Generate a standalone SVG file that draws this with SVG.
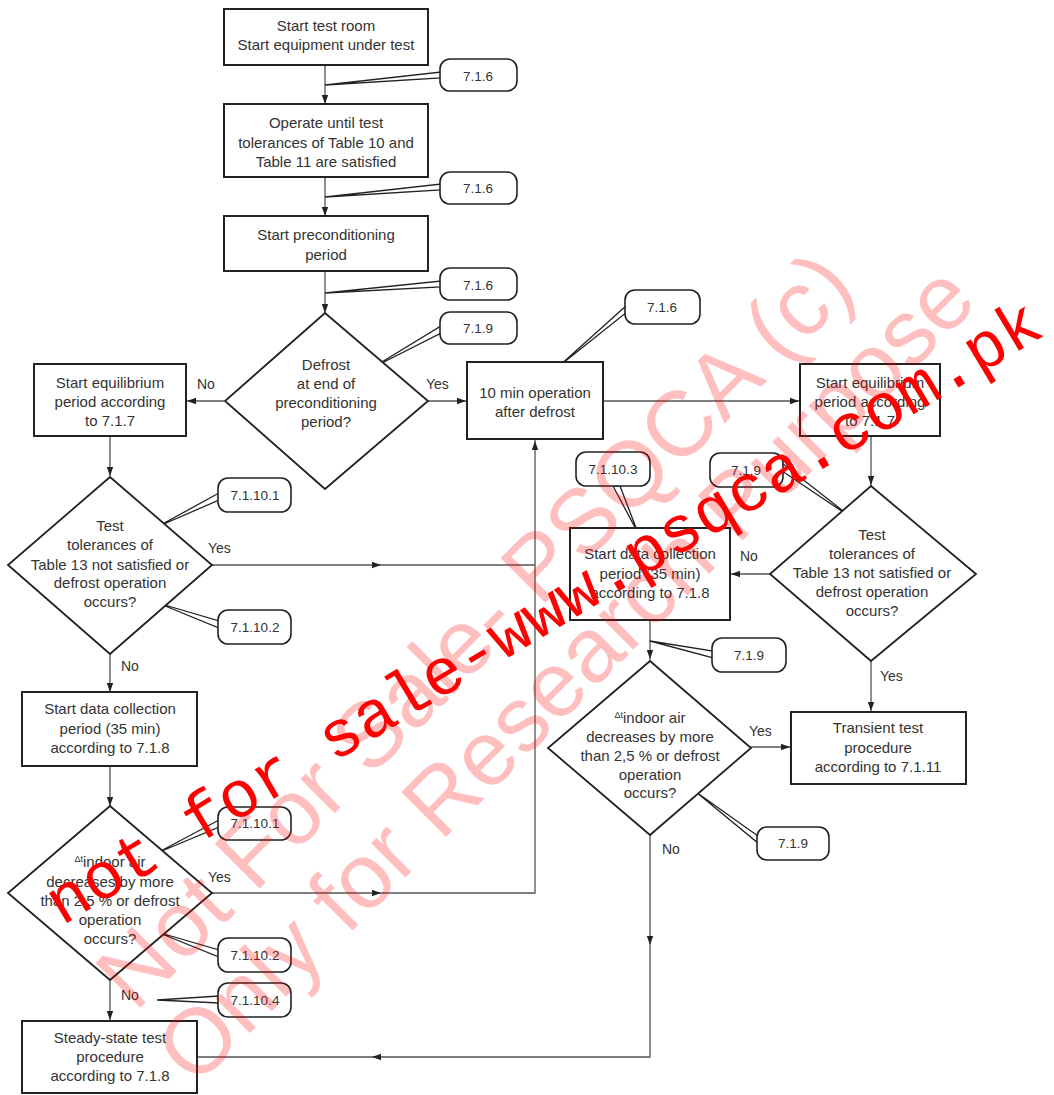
<svg xmlns="http://www.w3.org/2000/svg" xmlns:xlink="http://www.w3.org/1999/xlink" width="1054" height="1095" viewBox="0 0 1054 1095">
<style>
.box{fill:#fff;stroke:#222;stroke-width:2}
.dia{fill:#fff;stroke:#222;stroke-width:1.8}
.conn{fill:none;stroke:#555;stroke-width:1.3}
.co{fill:#fff;stroke:#222;stroke-width:1.6}
.ptr{fill:#fff;stroke:#222;stroke-width:1.3}
.t{font-family:"Liberation Sans",Arial,sans-serif;font-size:15px;fill:#333;text-anchor:middle}
.c{font-family:"Liberation Sans",Arial,sans-serif;font-size:13.5px;fill:#333;text-anchor:middle}
.l{font-family:"Liberation Sans",Arial,sans-serif;font-size:14px;fill:#333}
.ah{fill:#222}
.wm{font-family:"Liberation Sans",Arial,sans-serif;font-size:92px;fill:#ff0000;fill-opacity:0.25}
.wr{font-family:"Liberation Mono","Courier New",monospace;font-size:66px;fill:#ff0000}
</style>
<defs>
<path id="ah" class="ah" d="M0,0 L-9,-3.2 L-9,3.2 Z"/>
</defs>

<g id="connectors">
<path class="conn" d="M325,65 V104 M325,177 V216 M325,271 V313 M224,401 H186 M428,401 H467 M603,401 H800 M871,436 V486 M770,574 H730 M650,620 V660 M871,661 V712 M751,747 H791 M650,835 V1057 H197 M110,436 V476 M212,565 H535 V439 M212,893 H535 V565 M110,654 V692 M110,766 V806 M110,980 V1020"/>
<use xlink:href="#ah" transform="translate(325,104) rotate(90)"/>
<use xlink:href="#ah" transform="translate(325,216) rotate(90)"/>
<use xlink:href="#ah" transform="translate(325,313) rotate(90)"/>
<use xlink:href="#ah" transform="translate(187,401) rotate(180)"/>
<use xlink:href="#ah" transform="translate(466,401)"/>
<use xlink:href="#ah" transform="translate(799,401)"/>
<use xlink:href="#ah" transform="translate(871,485) rotate(90)"/>
<use xlink:href="#ah" transform="translate(731,574) rotate(180)"/>
<use xlink:href="#ah" transform="translate(650,659) rotate(90)"/>
<use xlink:href="#ah" transform="translate(871,711) rotate(90)"/>
<use xlink:href="#ah" transform="translate(790,747)"/>
<use xlink:href="#ah" transform="translate(650,945) rotate(90)"/>
<use xlink:href="#ah" transform="translate(372,1057) rotate(180)"/>
<use xlink:href="#ah" transform="translate(110,476) rotate(90)"/>
<use xlink:href="#ah" transform="translate(381,565)"/>
<use xlink:href="#ah" transform="translate(535,441) rotate(-90)"/>
<use xlink:href="#ah" transform="translate(381,893)"/>
<use xlink:href="#ah" transform="translate(110,692) rotate(90)"/>
<use xlink:href="#ah" transform="translate(110,806) rotate(90)"/>
<use xlink:href="#ah" transform="translate(110,1020) rotate(90)"/>
<text class="l" x="197" y="389">No</text>
<text class="l" x="426" y="389">Yes</text>
<text class="l" x="208" y="553">Yes</text>
<text class="l" x="121" y="671">No</text>
<text class="l" x="208" y="882">Yes</text>
<text class="l" x="121" y="1000">No</text>
<text class="l" x="740" y="561">No</text>
<text class="l" x="880" y="681">Yes</text>
<text class="l" x="749" y="736">Yes</text>
<text class="l" x="662" y="854">No</text>
</g>

<g id="callouts">
<polygon class="ptr" points="441,72 441,78 325,85"/>
<rect class="co" x="440" y="59" width="77" height="32" rx="10"/>
<text class="c" x="478" y="81">7.1.6</text>
<polygon class="ptr" points="441,184 441,190 325,197"/>
<rect class="co" x="440" y="172" width="77" height="32" rx="10"/>
<text class="c" x="478" y="193">7.1.6</text>
<polygon class="ptr" points="441,281 441,287 325,293"/>
<rect class="co" x="440" y="268" width="77" height="32" rx="10"/>
<text class="c" x="478" y="290">7.1.6</text>
<polygon class="ptr" points="441,326 441,333 372,368"/>
<rect class="co" x="440" y="312" width="77" height="32" rx="10"/>
<text class="c" x="478" y="333">7.1.9</text>
<polygon class="ptr" points="627,305 627,312 558,367"/>
<rect class="co" x="625" y="290" width="75" height="34" rx="10"/>
<text class="c" x="662" y="312">7.1.6</text>
<polygon class="ptr" points="613,486 620,486 638,533"/>
<rect class="co" x="576" y="452" width="74" height="34" rx="10"/>
<text class="c" x="613" y="474">7.1.10.3</text>
<polygon class="ptr" points="782,463 782,471 852,518"/>
<rect class="co" x="710" y="453" width="73" height="34" rx="10"/>
<text class="c" x="746" y="475">7.1.9</text>
<polygon class="ptr" points="713,651 713,658 650,641"/>
<rect class="co" x="712" y="638" width="74" height="34" rx="10"/>
<text class="c" x="749" y="660">7.1.9</text>
<polygon class="ptr" points="758,836 758,843 696,792"/>
<rect class="co" x="757" y="827" width="72" height="33" rx="10"/>
<text class="c" x="793" y="848">7.1.9</text>
<polygon class="ptr" points="219,493 219,500 157,527"/>
<rect class="co" x="218" y="478" width="73" height="34" rx="10"/>
<text class="c" x="255" y="500">7.1.10.1</text>
<polygon class="ptr" points="219,621 219,628 158,603"/>
<rect class="co" x="218" y="610" width="73" height="34" rx="10"/>
<text class="c" x="255" y="632">7.1.10.2</text>
<polygon class="ptr" points="219,820 219,827 157,853"/>
<rect class="co" x="218" y="807" width="73" height="33" rx="10"/>
<text class="c" x="255" y="828">7.1.10.1</text>
<polygon class="ptr" points="219,950 219,957 157,932"/>
<rect class="co" x="218" y="938" width="73" height="34" rx="10"/>
<text class="c" x="255" y="960">7.1.10.2</text>
<polygon class="ptr" points="219,996 219,1003 157,1000"/>
<rect class="co" x="218" y="983" width="73" height="34" rx="10"/>
<text class="c" x="255" y="1005">7.1.10.4</text>
</g>

<g id="n1"><rect class="box" x="224" y="9" width="204" height="56"/>
<text class="t" x="326" y="31">Start test room</text><text class="t" x="326" y="50">Start equipment under test</text></g>
<g id="n2"><rect class="box" x="224" y="104" width="204" height="73"/>
<text class="t" x="326" y="128">Operate until test</text><text class="t" x="326" y="148">tolerances of Table 10 and</text><text class="t" x="326" y="167">Table 11 are satisfied</text></g>
<g id="n3"><rect class="box" x="224" y="216" width="204" height="55"/>
<text class="t" x="326" y="240">Start preconditioning</text><text class="t" x="326" y="260">period</text></g>
<g id="d1"><polygon class="dia" points="325,313 428,401 325,489 225,401"/>
<text class="t" x="326" y="370">Defrost</text><text class="t" x="326" y="389">at end of</text><text class="t" x="326" y="408">preconditioning</text><text class="t" x="326" y="427">period?</text></g>
<g id="l1"><rect class="box" x="34" y="364" width="152" height="72"/>
<text class="t" x="110" y="388">Start equilibrium</text><text class="t" x="110" y="407">period according</text><text class="t" x="110" y="426">to 7.1.7</text></g>
<g id="m1"><rect class="box" x="467" y="362" width="136" height="77"/>
<text class="t" x="535" y="398">10 min operation</text><text class="t" x="535" y="417">after defrost</text></g>
<g id="r1"><rect class="box" x="800" y="364" width="140" height="72"/>
<text class="t" x="870" y="388">Start equilibrium</text><text class="t" x="870" y="407">period according</text><text class="t" x="870" y="426">to 7.1.7</text></g>
<g id="dl1"><polygon class="dia" points="110,477 212,565 110,654 8,565"/>
<text class="t" x="110" y="531">Test</text><text class="t" x="110" y="550">tolerances of</text><text class="t" x="110" y="570">Table 13 not satisfied or</text><text class="t" x="110" y="588">defrost operation</text><text class="t" x="110" y="607">occurs?</text></g>
<g id="dr"><polygon class="dia" points="871,486 976,574 871,661 770,574"/>
<text class="t" x="872" y="540">Test</text><text class="t" x="872" y="559">tolerances of</text><text class="t" x="872" y="578">Table 13 not satisfied or</text><text class="t" x="872" y="597">defrost operation</text><text class="t" x="872" y="616">occurs?</text></g>
<g id="m2"><rect class="box" x="570" y="528" width="160" height="92"/>
<text class="t" x="650" y="559">Start data collection</text><text class="t" x="650" y="579">period (35 min)</text><text class="t" x="650" y="598">according to 7.1.8</text></g>
<g id="dm2"><polygon class="dia" points="650,661 751,748 650,835 548,748"/>
<text class="t" x="650" y="723"><tspan font-size="9" dy="-5">Δt</tspan><tspan dy="5">indoor air</tspan></text><text class="t" x="650" y="742">decreases by more</text><text class="t" x="650" y="761">than 2,5 % or defrost</text><text class="t" x="650" y="780">operation</text><text class="t" x="650" y="798">occurs?</text></g>
<g id="r2"><rect class="box" x="791" y="712" width="175" height="72"/>
<text class="t" x="878" y="733">Transient test</text><text class="t" x="878" y="753">procedure</text><text class="t" x="878" y="772">according to 7.1.11</text></g>
<g id="l2"><rect class="box" x="22" y="692" width="175" height="74"/>
<text class="t" x="110" y="714">Start data collection</text><text class="t" x="110" y="734">period (35 min)</text><text class="t" x="110" y="753">according to 7.1.8</text></g>
<g id="dl2"><polygon class="dia" points="110,806 212,893 110,980 8,893"/>
<text class="t" x="110" y="867"><tspan font-size="9" dy="-5">Δt</tspan><tspan dy="5">indoor air</tspan></text><text class="t" x="110" y="887">decreases by more</text><text class="t" x="110" y="906">than 2,5 % or defrost</text><text class="t" x="110" y="925">operation</text><text class="t" x="110" y="944">occurs?</text></g>
<g id="l3"><rect class="box" x="22" y="1021" width="175" height="72"/>
<text class="t" x="110" y="1043">Steady-state test</text><text class="t" x="110" y="1062">procedure</text><text class="t" x="110" y="1081">according to 7.1.8</text></g>

<g id="watermark">
<text class="wm" transform="translate(135,1013) rotate(-45)">Not For Sale- PSQCA (c)</text>
<text class="wm" transform="translate(195,1088) rotate(-45)">Only for Research Purpose</text>
<text class="wr" transform="translate(62,926) rotate(-31)">not for sale-www.psqca.com.pk</text>
</g>
</svg>
